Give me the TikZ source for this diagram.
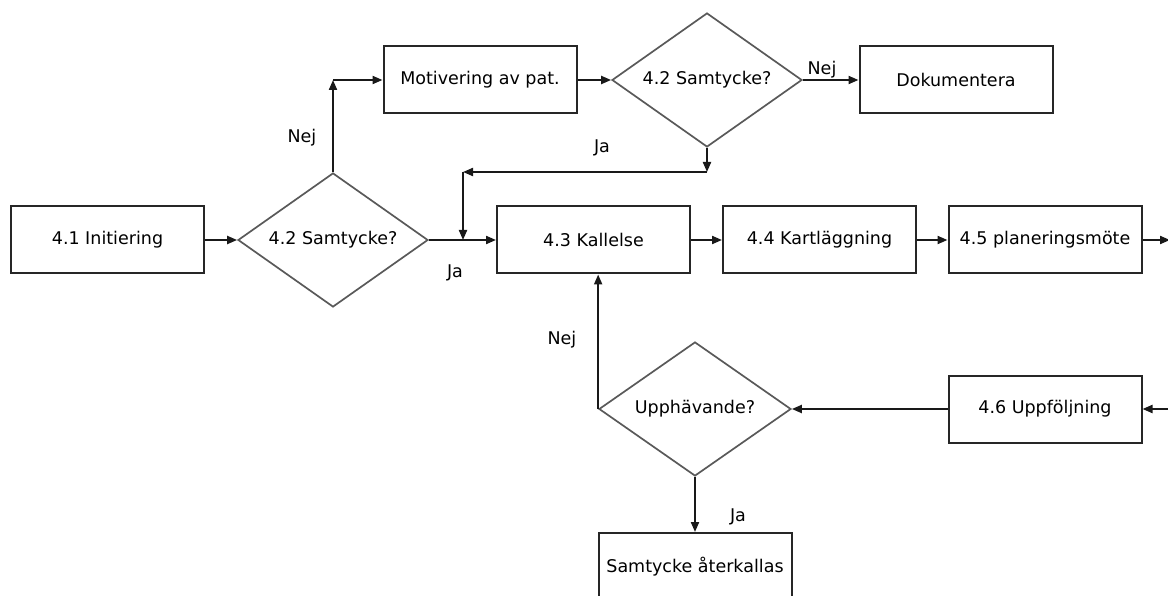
\documentclass[tikz,border=0pt]{standalone}
\usepackage{fontspec}
\setmainfont{DejaVu Sans}
\usepackage{tikz}
\usetikzlibrary{shapes.geometric}
\usetikzlibrary{arrows.meta}
\tikzset{>={Triangle[length=10pt,width=8pt]}}
\tikzset{
  stepbox/.style={draw=black!85, line width=2pt, minimum width=193pt,
    minimum height=67pt, inner sep=0pt, font=\fontsize{17.5}{20}\selectfont},
  choice/.style={diamond, aspect=1.6, draw=black!65, line width=1.7pt, minimum width=190pt,
    minimum height=134pt, inner sep=0pt, font=\fontsize{17.5}{20}\selectfont},
  link/.style={->, line width=2pt, black!90},
  tag/.style={font=\fontsize{17.5}{20}\selectfont}
}

\begin{document}
\begin{tikzpicture}[x=1pt, y=-1pt]
\useasboundingbox (0,0) rectangle (1168,596);
\clip (0,0) rectangle (1168,596);

% ---------- Main row ----------
\node[stepbox] (init) at (107.5,240) {4.1 Initiering};
\node[choice] (samtA) at (333,240) {4.2 Samtycke?};
\node[stepbox] (kall) at (593.5,240) {4.3 Kallelse};
\node[stepbox] (kart) at (819.5,240) {4.4 Kartläggning};
\node[stepbox] (plan) at (1045,240) {4.5 planeringsmöte};

% ---------- Top row ----------
\node[stepbox] (motiv) at (480,80) {Motivering av pat.};
\node[choice] (samtB) at (707,80) {4.2 Samtycke?};
\node[stepbox] (dok) at (956,80) {Dokumentera};

% ---------- Bottom part ----------
\node[choice, minimum width=192pt] (upph) at (695,409) {Upphävande?};
\node[stepbox] (uppf) at (1045,409) {4.6 Uppföljning};
\node[stepbox] (ater) at (695,566.5) {Samtycke återkallas};

% ---------- Bends & page edge ----------
\coordinate (nejUp) at (samtA.north |- motiv.west);
\coordinate (jaTurn) at (samtB.south |- 0,172);
\coordinate (jaCorner) at (463,172);
\coordinate (jaJoin) at (463,240);
\coordinate (outR) at (1170,240);
\coordinate (inR) at (1170,409);

% ---------- Arrows ----------
\draw[link] (init) -- (samtA);
\draw[link] (samtA) -- (kall);
\draw[link] (kall) -- (kart);
\draw[link] (kart) -- (plan);
\draw[link] (plan) -- (outR);

\draw[link] (samtA.north) -- (nejUp);
\draw[link] (nejUp) -- (motiv);
\draw[link] (motiv) -- (samtB);
\draw[link] (samtB) -- (dok);
\draw[link] (samtB.south) -- (jaTurn);
\draw[link] (jaTurn) -- (jaCorner);
\draw[link] (jaCorner) -- (jaJoin);

\draw[link] (inR) -- (uppf);
\draw[link] (uppf) -- (upph);
\draw[link] (upph.west) -- (upph.west |- kall.south);
\draw[link] (upph) -- (ater);

% ---------- Labels ----------
\node[tag] (nejA) at (302,138) {Nej};
\node[tag] (jaA) at (455,273) {Ja};
\node[tag] (jaB) at (602,148) {Ja};
\node[tag] (nejB) at (822,70) {Nej};
\node[tag] (nejC) at (562,340) {Nej};
\node[tag] (jaC) at (738,517) {Ja};

\end{tikzpicture}
\end{document}
